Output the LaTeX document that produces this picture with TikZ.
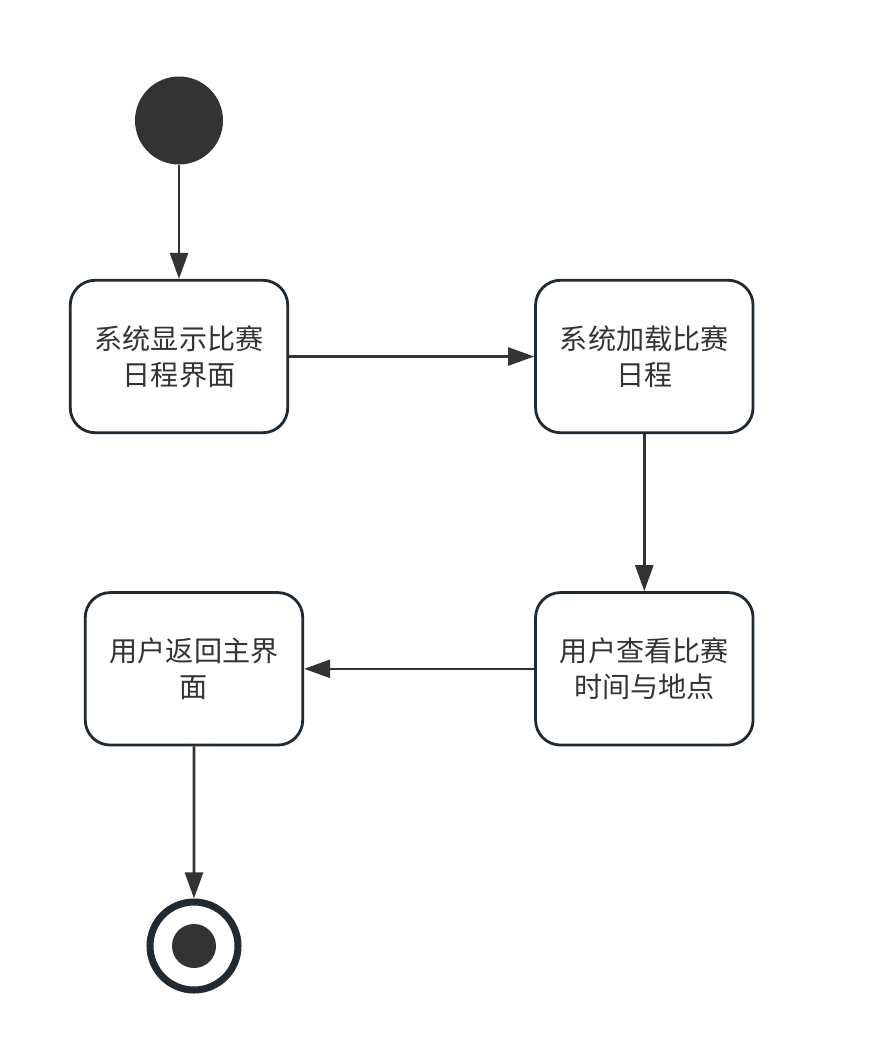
\documentclass[tikz,border=0pt]{standalone}
\usepackage{fontspec}
\setmainfont{Noto Sans CJK SC}
\usetikzlibrary{arrows.meta,positioning}
\definecolor{ink}{HTML}{333333}
\definecolor{edge}{HTML}{1F2A33}

\begin{document}
\begin{tikzpicture}[
    act/.style={draw=edge, line width=1.6pt, rounded corners=0.5cm, align=center, minimum width=4.35cm, minimum height=3.05cm, text=ink, font=\fontsize{16}{20.5}\selectfont},
    link/.style={-{Triangle[length=0.52cm, width=0.36cm]}, line width=1.5pt, draw=ink, fill=ink}
]
\useasboundingbox (0,0) rectangle (17.5,-21.1);
\node[circle, fill=ink, minimum size=1.76cm, inner sep=0pt] (init) at (3.58,-2.41) {};
\node[act] (show) at (3.58,-7.13) {系统显示比赛\\日程界面};
\node[act, right=4.9cm of show] (load) {系统加载比赛\\日程};
\node[act, below=3.14cm of load] (view) {用户查看比赛\\时间与地点};
\node[act, left=4.6cm of view] (back) {用户返回主界\\面};
\node[circle, draw=edge, line width=4pt, minimum size=1.76cm, inner sep=0pt] (final) at (3.88,-18.92) {};
\node[circle, fill=ink, minimum size=0.88cm, inner sep=0pt] (finaldot) at (final) {};
\draw[link] (init) -- (show);
\draw[link] (show) -- (load);
\draw[link] (load) -- (view);
\draw[link] (view) -- (back);
\draw[link] (back) -- (final);
\end{tikzpicture}
\end{document}
